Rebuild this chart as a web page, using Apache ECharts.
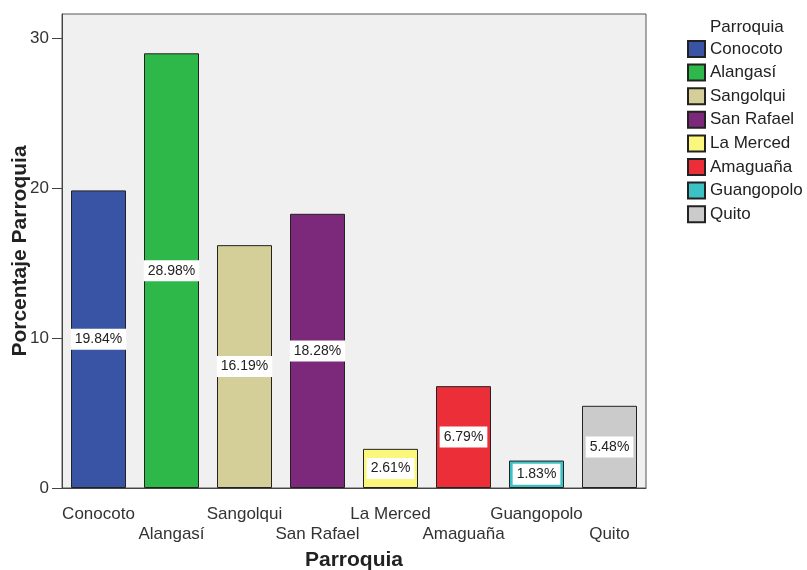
<!DOCTYPE html>
<html>
<head>
<meta charset="utf-8">
<script src="https://cdn.jsdelivr.net/npm/echarts@6/dist/echarts.min.js"></script>
<style>
  html, body { margin: 0; padding: 0; background: #ffffff; }
  #chart { width: 807px; height: 570px; }
</style>
</head>
<body>
<div id="chart"></div>
<script>
// Parish shares (percent)
const categories = ['Conocoto', 'Alangasí', 'Sangolqui', 'San Rafael', 'La Merced', 'Amaguaña', 'Guangopolo', 'Quito'];
const percentages = [19.84, 28.98, 16.19, 18.28, 2.61, 6.79, 1.83, 5.48];
const barColors = ['#3a54a5', '#2fb84a', '#d4ce98', '#7c297b', '#faf77c', '#ec2e39', '#3cc1c4', '#cbcbcb'];
const yTicks = [0, 10, 20, 30];

const FONT = '"Liberation Sans", Arial, sans-serif';

// One series per parish so each gets its own legend entry; stacking keeps every bar centred on its category.
const series = categories.map((name, i) => ({
  name: name,
  type: 'bar',
  stack: 'parroquia',
  barWidth: 55,
  xAxisIndex: 0,
  data: categories.map((_, j) => (j === i ? percentages[i] : '-')),
  itemStyle: { color: barColors[i], borderColor: '#222', borderWidth: 1 },
  label: {
    show: true,
    position: 'inside',
    formatter: p => p.value.toFixed(2) + '%',
    backgroundColor: '#ffffff',
    padding: [4, 4, 3, 4],
    fontFamily: FONT,
    fontSize: 14,
    color: '#222'
  }
}));

const chart = echarts.init(document.getElementById('chart'), null, { renderer: 'canvas' });
chart.setOption({
  animation: false,
  backgroundColor: '#ffffff',
  textStyle: { fontFamily: FONT },
  title: {
    text: 'Parroquia',
    left: 710,
    top: 19,
    padding: 0,
    textStyle: { fontFamily: FONT, fontSize: 17, fontWeight: 'normal', color: '#222' }
  },
  legend: {
    orient: 'vertical',
    left: 687,
    top: 40,
    padding: 0,
    itemWidth: 17,
    itemHeight: 16,
    itemGap: 5.6,
    icon: 'rect',
    textStyle: { fontFamily: FONT, fontSize: 17, lineHeight: 16, color: '#222' },
    data: categories
  },
  grid: {
    left: 62, top: 14, right: 161, bottom: 82,
    outerBoundsMode: 'none',
    containLabel: false,
    show: true,
    backgroundColor: '#f0f0f0',
    borderColor: '#555',
    borderWidth: 1
  },
  xAxis: [
    {
      type: 'category',
      data: categories,
      position: 'bottom',
      name: 'Parroquia',
      nameLocation: 'middle',
      nameGap: 62,
      nameTextStyle: { fontFamily: FONT, fontSize: 21, fontWeight: 'bold', color: '#222' },
      axisLine: { lineStyle: { color: '#444', width: 1 } },
      axisTick: { alignWithLabel: true, length: 11, lineStyle: { color: '#444' } },
      axisLabel: {
        interval: 0,
        margin: 16,
        fontFamily: FONT,
        fontSize: 17,
        lineHeight: 20,
        color: '#333',
        formatter: (v, i) => (i % 2 === 1 ? '\n' + v : v)
      }
    },
    {
      // longer ticks under the staggered (second-row) labels
      type: 'category',
      data: categories,
      position: 'bottom',
      axisLine: { show: false },
      axisLabel: { show: false },
      axisTick: {
        alignWithLabel: true,
        length: 32,
        interval: (i) => i % 2 === 1,
        lineStyle: { color: '#444' }
      }
    }
  ],
  yAxis: {
    type: 'value',
    min: 0,
    max: 31.6,
    interval: 10,
    name: 'Porcentaje Parroquia',
    nameLocation: 'middle',
    nameGap: 31,
    nameMoveOverlap: false,
    nameTextStyle: { fontFamily: FONT, fontSize: 21, fontWeight: 'bold', color: '#222' },
    splitLine: { show: false },
    axisLine: { show: true, lineStyle: { color: '#444' } },
    axisTick: { show: true, length: 10, customValues: yTicks, lineStyle: { color: '#444' } },
    axisLabel: {
      margin: 13,
      fontFamily: FONT,
      fontSize: 17,
      color: '#333',
      customValues: yTicks
    }
  },
  series: series
});
</script>
</body>
</html>
